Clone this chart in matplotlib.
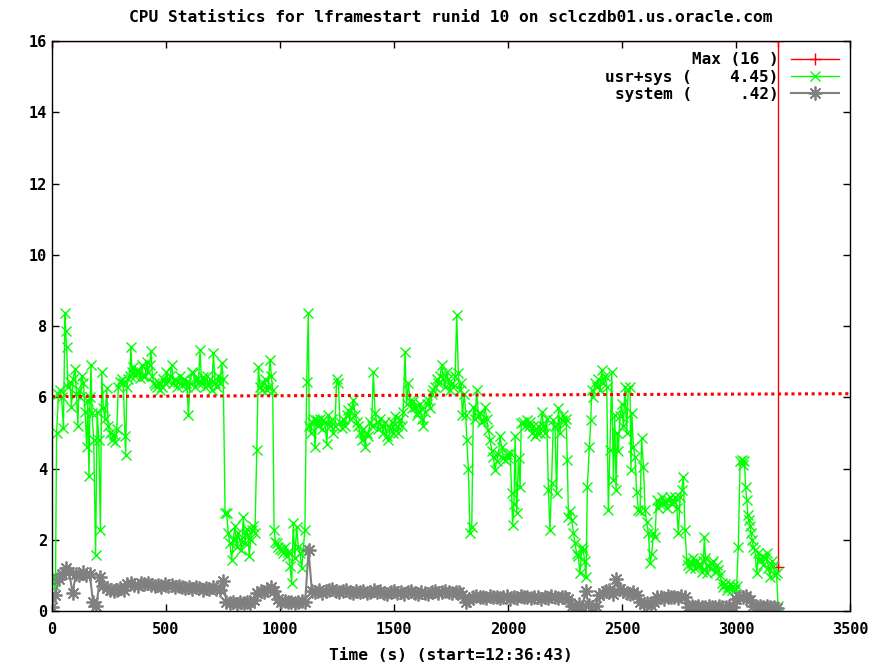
import numpy as np
import matplotlib
matplotlib.use("Agg")
import matplotlib.pyplot as plt

# usr+sys samples (time s, cpus)
usr_t = [0, 8, 15, 20, 28, 35, 42, 50, 57, 60, 64, 70, 79, 85, 92, 101, 107, 113, 118, 124,
         130, 138, 145, 152, 157, 162, 167, 171, 175, 183, 191, 198, 205, 212, 218, 225, 232, 240, 246, 254,
         262, 270, 277, 284, 291, 298, 305, 312, 320, 323, 328, 335, 341, 346, 351, 357, 364, 372, 379, 386,
         393, 400, 408, 416, 422, 428, 434, 440, 446, 452, 460, 467, 474, 481, 488, 495, 502, 510, 518, 525,
         532, 540, 547, 554, 562, 570, 578, 586, 592, 598, 605, 612, 620, 628, 635, 642, 649, 656, 664, 671,
         678, 685, 692, 700, 708, 715, 722, 730, 737, 744, 751, 759, 766, 773, 780, 788, 795, 802, 810, 817,
         824, 831, 839, 846, 853, 860, 865, 871, 876, 883, 890, 898, 905, 912, 919, 926, 934, 941, 948, 956,
         962, 968, 974, 980, 985, 992, 1000, 1008, 1015, 1022, 1030, 1037, 1044, 1051, 1058, 1065, 1073, 1080, 1088, 1095,
         1102, 1109, 1117, 1124, 1128, 1135, 1142, 1148, 1153, 1160, 1167, 1175, 1182, 1190, 1197, 1205, 1212, 1219, 1226, 1233,
         1241, 1248, 1256, 1263, 1271, 1278, 1285, 1293, 1300, 1307, 1315, 1322, 1329, 1337, 1344, 1351, 1358, 1366, 1373, 1380,
         1387, 1395, 1402, 1409, 1417, 1424, 1431, 1438, 1446, 1453, 1460, 1468, 1475, 1482, 1490, 1497, 1504, 1511, 1519, 1526,
         1533, 1540, 1548, 1555, 1563, 1570, 1577, 1585, 1592, 1600, 1607, 1614, 1622, 1629, 1636, 1644, 1651, 1658, 1666, 1673,
         1680, 1688, 1695, 1702, 1709, 1716, 1724, 1731, 1738, 1746, 1753, 1760, 1768, 1775, 1782, 1788, 1794, 1800, 1808, 1815,
         1819, 1826, 1833, 1841, 1848, 1855, 1863, 1870, 1877, 1885, 1892, 1899, 1906, 1914, 1921, 1929, 1936, 1943, 1950, 1958,
         1965, 1972, 1980, 1987, 1994, 2001, 2009, 2016, 2020, 2026, 2031, 2038, 2046, 2053, 2058, 2065, 2073, 2082, 2090, 2097,
         2104, 2111, 2118, 2126, 2133, 2140, 2148, 2155, 2162, 2170, 2177, 2184, 2191, 2199, 2206, 2213, 2221, 2228, 2235, 2243,
         2250, 2255, 2260, 2265, 2272, 2279, 2287, 2294, 2301, 2308, 2316, 2323, 2330, 2336, 2342, 2348, 2357, 2363, 2367, 2374,
         2382, 2389, 2396, 2404, 2411, 2418, 2426, 2433, 2440, 2447, 2455, 2462, 2468, 2474, 2479, 2484, 2491, 2498, 2506, 2513,
         2520, 2527, 2535, 2539, 2543, 2550, 2557, 2564, 2572, 2579, 2586, 2594, 2601, 2608, 2616, 2623, 2630, 2638, 2645, 2652,
         2659, 2666, 2674, 2681, 2688, 2696, 2703, 2710, 2718, 2725, 2733, 2740, 2747, 2755, 2762, 2769, 2776, 2784, 2791, 2799,
         2806, 2813, 2820, 2828, 2835, 2842, 2850, 2857, 2861, 2866, 2871, 2878, 2886, 2893, 2900, 2908, 2915, 2923, 2930, 2938,
         2945, 2952, 2959, 2966, 2974, 2981, 2988, 2996, 3003, 3010, 3018, 3025, 3032, 3037, 3042, 3047, 3052, 3057, 3062, 3066,
         3071, 3076, 3083, 3091, 3098, 3105, 3113, 3120, 3127, 3135, 3142, 3149, 3156, 3164, 3171, 3178, 3184]
usr_v = [0.80, 1.00, 0.70, 4.99, 6.10, 6.20, 6.00, 5.13, 8.36, 7.85, 7.40, 6.30, 6.44, 5.74, 6.50, 6.80, 6.10, 5.20, 6.20, 6.00,
         6.60, 6.40, 5.60, 4.60, 5.90, 3.80, 6.00, 6.90, 5.55, 4.80, 1.57, 5.60, 4.80, 2.28, 6.70, 5.70, 5.40, 6.25, 5.20, 5.00,
         4.80, 4.95, 4.75, 5.10, 6.30, 6.44, 6.50, 6.40, 4.90, 4.38, 6.30, 6.50, 6.60, 7.40, 6.70, 6.86, 6.60, 6.70, 6.77, 6.55,
         6.90, 6.60, 6.60, 7.00, 6.70, 6.90, 7.30, 6.60, 6.40, 6.35, 6.30, 6.40, 6.20, 6.30, 6.50, 6.40, 6.70, 6.45, 6.60, 6.90,
         6.40, 6.50, 6.30, 6.44, 6.60, 6.35, 6.50, 6.40, 6.30, 5.50, 6.40, 6.70, 6.68, 6.30, 6.50, 6.40, 7.33, 6.40, 6.58, 6.30,
         6.60, 6.35, 6.50, 6.20, 7.24, 6.40, 6.30, 6.60, 6.40, 6.96, 6.50, 2.74, 2.74, 2.18, 1.90, 1.43, 2.00, 2.40, 1.80, 2.18,
         2.00, 1.70, 2.65, 1.90, 2.30, 2.10, 1.53, 2.00, 2.28, 2.40, 2.18, 4.52, 6.86, 6.30, 6.20, 6.40, 6.50, 6.20, 6.30, 7.05,
         6.60, 6.20, 2.28, 1.95, 1.90, 1.80, 1.75, 1.70, 1.62, 1.80, 1.55, 1.65, 1.25, 0.78, 2.46, 1.50, 2.37, 1.80, 1.62, 1.20,
         1.70, 2.28, 6.44, 8.36, 5.18, 5.00, 5.30, 5.40, 4.60, 5.36, 5.20, 5.40, 5.10, 5.36, 5.30, 4.70, 5.50, 5.18, 5.40, 5.00,
         5.18, 6.50, 6.40, 5.30, 5.13, 5.40, 5.20, 5.50, 5.65, 5.40, 5.70, 5.93, 5.50, 5.30, 5.18, 5.00, 4.80, 5.10, 4.60, 5.00,
         4.90, 5.30, 5.20, 6.72, 5.55, 5.30, 5.10, 5.40, 5.18, 5.00, 5.30, 4.90, 4.80, 5.10, 5.30, 5.00, 5.46, 5.20, 5.00, 5.40,
         5.18, 5.60, 7.28, 5.80, 6.40, 5.90, 5.70, 5.90, 5.74, 5.50, 5.60, 5.80, 5.40, 5.18, 5.60, 5.80, 5.93, 5.70, 6.10, 6.20,
         6.30, 6.50, 6.40, 6.60, 6.90, 6.50, 6.30, 6.70, 6.50, 6.20, 6.40, 6.30, 6.60, 8.31, 6.68, 6.20, 6.40, 5.50, 6.10, 5.50,
         4.80, 4.00, 2.18, 2.37, 5.74, 5.40, 6.20, 5.46, 5.55, 5.30, 5.36, 5.74, 5.40, 5.08, 4.80, 4.50, 4.33, 3.96, 4.20, 4.40,
         4.90, 4.60, 4.30, 4.24, 4.40, 4.30, 4.43, 3.30, 2.42, 3.00, 4.90, 2.74, 4.30, 3.49, 5.27, 5.30, 5.20, 5.36, 5.20, 5.30,
         5.00, 5.18, 4.90, 4.99, 5.20, 5.00, 5.60, 5.20, 4.99, 5.40, 3.40, 2.28, 3.60, 5.36, 5.20, 3.30, 5.70, 5.00, 5.36, 5.50,
         5.27, 5.40, 4.24, 2.65, 2.80, 2.56, 2.20, 1.90, 1.60, 1.53, 1.06, 1.80, 1.71, 1.40, 0.96, 3.49, 4.60, 5.36, 6.20, 6.00,
         6.40, 6.30, 6.50, 6.20, 6.77, 6.40, 6.60, 6.30, 2.84, 4.52, 6.72, 3.68, 5.50, 3.40, 5.00, 4.50, 5.46, 5.80, 5.20, 6.30,
         5.00, 6.20, 6.30, 3.96, 5.55, 4.60, 4.33, 3.35, 2.84, 2.80, 4.85, 4.05, 2.84, 2.50, 2.18, 1.34, 1.60, 2.20, 2.09, 3.12,
         2.90, 3.00, 3.21, 3.00, 3.10, 2.90, 3.12, 3.20, 3.00, 3.10, 3.21, 2.90, 2.18, 3.20, 3.40, 3.77, 2.28, 1.43, 1.30, 1.20,
         1.34, 1.50, 1.20, 1.40, 1.25, 1.30, 1.10, 1.40, 2.09, 1.50, 1.06, 1.30, 1.20, 1.34, 1.40, 1.10, 1.30, 1.15, 1.00, 0.80,
         0.68, 0.75, 0.60, 0.68, 0.75, 0.60, 0.70, 0.59, 0.70, 1.80, 4.20, 4.24, 4.10, 4.20, 3.49, 3.12, 2.70, 2.56, 2.40, 2.18,
         2.00, 1.80, 1.70, 1.06, 1.62, 1.40, 1.53, 1.30, 1.50, 1.62, 1.20, 0.96, 1.40, 1.25, 1.00, 1.06, 0.15]

# system samples, one every 15 s
sys_step = 15
sys_v = [0.10, 0.45, 0.90, 1.05, 1.20, 1.10, 0.50, 1.05, 1.00, 1.10,
         1.00, 1.05, 0.25, 0.15, 0.95, 0.70, 0.65, 0.60, 0.55, 0.60,
         0.65, 0.60, 0.75, 0.80, 0.72, 0.70, 0.78, 0.75, 0.80, 0.74,
         0.70, 0.72, 0.68, 0.75, 0.70, 0.72, 0.66, 0.70, 0.68, 0.65,
         0.68, 0.62, 0.66, 0.64, 0.60, 0.65, 0.62, 0.66, 0.62, 0.60,
         0.85, 0.25, 0.22, 0.25, 0.20, 0.24, 0.22, 0.25, 0.22, 0.30,
         0.50, 0.55, 0.52, 0.60, 0.68, 0.55, 0.35, 0.25, 0.28, 0.24,
         0.26, 0.22, 0.25, 0.28, 0.24, 1.70, 0.55, 0.52, 0.58, 0.50,
         0.55, 0.58, 0.62, 0.56, 0.52, 0.55, 0.60, 0.54, 0.50, 0.55,
         0.52, 0.56, 0.50, 0.54, 0.58, 0.52, 0.55, 0.50, 0.48, 0.52,
         0.55, 0.50, 0.53, 0.48, 0.52, 0.55, 0.50, 0.47, 0.52, 0.50,
         0.48, 0.52, 0.55, 0.50, 0.53, 0.56, 0.52, 0.50, 0.54, 0.52,
         0.45, 0.25, 0.30, 0.40, 0.42, 0.38, 0.40, 0.36, 0.42, 0.38,
         0.40, 0.36, 0.38, 0.42, 0.35, 0.40, 0.37, 0.42, 0.38, 0.40,
         0.36, 0.40, 0.38, 0.35, 0.40, 0.37, 0.42, 0.38, 0.36, 0.40,
         0.38, 0.35, 0.15, 0.10, 0.20, 0.12, 0.55, 0.18, 0.12, 0.15,
         0.45, 0.50, 0.55, 0.60, 0.48, 0.90, 0.62, 0.55, 0.50, 0.48,
         0.52, 0.45, 0.25, 0.20, 0.22, 0.18, 0.24, 0.38, 0.40, 0.35,
         0.42, 0.38, 0.40, 0.36, 0.42, 0.38, 0.12, 0.15, 0.10, 0.14,
         0.12, 0.10, 0.15, 0.12, 0.10, 0.14, 0.12, 0.10, 0.15, 0.12,
         0.35, 0.40, 0.38, 0.42, 0.30, 0.15, 0.12, 0.14, 0.10, 0.15,
         0.12, 0.10, 0.08]
sys_t = np.arange(len(sys_v)) * sys_step

# Max cpus line and the dotted trend
max_t = [0, 3184, 3184]
max_v = [16, 16, 1.24]
trend_t = [0, 3500]
trend_v = [6.02, 6.10]

labels = ["Max (16 )", "usr+sys (    4.45)", "system (     .42)"]
xticks = [0, 500, 1000, 1500, 2000, 2500, 3000, 3500]
yticks = [0, 2, 4, 6, 8, 10, 12, 14, 16]

mono = {"family": "DejaVu Sans Mono", "weight": "bold"}

fig = plt.figure(figsize=(8.91, 6.65), dpi=100)
ax = fig.add_axes([0.0584, 0.0812, 0.8956, 0.8571])

ax.plot(max_t, max_v, color="#ff0000", lw=1, marker="+", ms=8, label=labels[0])
ax.plot(usr_t, usr_v, color="#00ff00", lw=1, marker="x", ms=7.5, mew=1, label=labels[1])
ax.plot(sys_t, sys_v, color="#808080", lw=1.5, marker=(8, 2, 0), ms=10, mew=1.3, label=labels[2])
ax.plot(trend_t, trend_v, color="#ff0000", lw=2.2, linestyle=(0, (1, 1.2)), dash_capstyle="butt")

ax.set_xlim(0, 3500)
ax.set_ylim(0, 16)
ax.set_xticks(xticks)
ax.set_yticks(yticks)
ax.tick_params(direction="in", length=5, width=1, top=True, right=True, labelsize=11)
for lab in ax.get_xticklabels() + ax.get_yticklabels():
    lab.set_fontfamily(mono["family"])
    lab.set_fontweight("bold")
ax.tick_params(axis="x", pad=8)
for s in ax.spines.values():
    s.set_linewidth(1)
    s.set_zorder(5)

ax.set_title("CPU Statistics for lframestart runid 10 on sclczdb01.us.oracle.com",
             fontsize=11.7, pad=14, **mono)
ax.set_xlabel("Time (s) (start=12:36:43)", fontsize=11.7, labelpad=8, **mono)

leg = ax.legend(loc="upper right", frameon=False, markerfirst=False,
                prop={"family": "DejaVu Sans Mono", "weight": "bold", "size": 11.5},
                handlelength=3.0, labelspacing=0.15, borderaxespad=0.3, handletextpad=0.8)
for t in leg.get_texts():
    t.set_ha("right")
leg._legend_box.align = "right"

fig.savefig("out.png", dpi=100)
